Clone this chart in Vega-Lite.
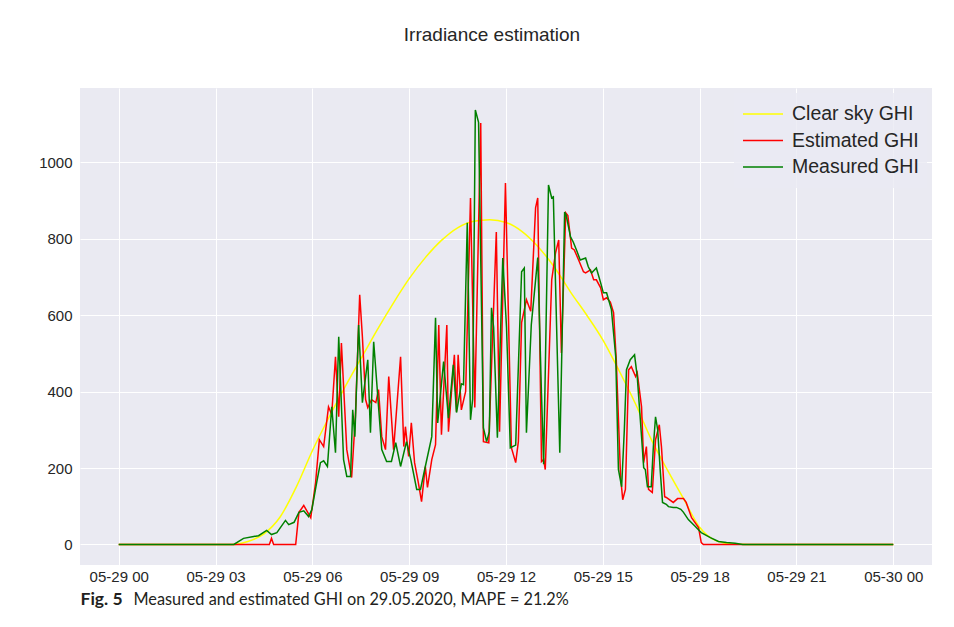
{
  "$schema": "https://vega.github.io/schema/vega-lite/v6.json",
  "width": 852,
  "height": 477,
  "autosize": {"type": "none"},
  "padding": {"left": 80, "top": 88, "right": 22, "bottom": 62},
  "background": "white",
  "title": {"text": "Irradiance estimation", "font": "Liberation Sans", "fontSize": 19, "fontWeight": "normal", "color": "#262626", "anchor": "middle", "baseline": "alphabetic", "offset": 28, "dx": -14},
  "config": {
    "view": {"fill": "#EAEAF2", "stroke": null},
    "axis": {"labelFont": "Liberation Sans", "labelColor": "#262626", "labelFontSize": 15, "ticks": false, "domain": false, "gridColor": "#FFFFFF", "gridWidth": 1, "gridOpacity": 1}
  },
  "data": {"values": [
    {"series": "Clear sky GHI", "time": "2020-05-29T00:00", "ghi": 0},
    {"series": "Clear sky GHI", "time": "2020-05-29T03:30", "ghi": 0},
    {"series": "Clear sky GHI", "time": "2020-05-29T04:00", "ghi": 8},
    {"series": "Clear sky GHI", "time": "2020-05-29T04:30", "ghi": 28},
    {"series": "Clear sky GHI", "time": "2020-05-29T05:00", "ghi": 72},
    {"series": "Clear sky GHI", "time": "2020-05-29T05:30", "ghi": 150},
    {"series": "Clear sky GHI", "time": "2020-05-29T06:00", "ghi": 245},
    {"series": "Clear sky GHI", "time": "2020-05-29T06:30", "ghi": 330},
    {"series": "Clear sky GHI", "time": "2020-05-29T07:00", "ghi": 410},
    {"series": "Clear sky GHI", "time": "2020-05-29T07:30", "ghi": 485},
    {"series": "Clear sky GHI", "time": "2020-05-29T08:00", "ghi": 560},
    {"series": "Clear sky GHI", "time": "2020-05-29T08:30", "ghi": 630},
    {"series": "Clear sky GHI", "time": "2020-05-29T09:00", "ghi": 695},
    {"series": "Clear sky GHI", "time": "2020-05-29T09:30", "ghi": 750},
    {"series": "Clear sky GHI", "time": "2020-05-29T10:00", "ghi": 795},
    {"series": "Clear sky GHI", "time": "2020-05-29T10:30", "ghi": 828},
    {"series": "Clear sky GHI", "time": "2020-05-29T11:00", "ghi": 845},
    {"series": "Clear sky GHI", "time": "2020-05-29T11:30", "ghi": 849},
    {"series": "Clear sky GHI", "time": "2020-05-29T12:00", "ghi": 842},
    {"series": "Clear sky GHI", "time": "2020-05-29T12:30", "ghi": 818},
    {"series": "Clear sky GHI", "time": "2020-05-29T13:00", "ghi": 778},
    {"series": "Clear sky GHI", "time": "2020-05-29T13:30", "ghi": 725},
    {"series": "Clear sky GHI", "time": "2020-05-29T14:00", "ghi": 660},
    {"series": "Clear sky GHI", "time": "2020-05-29T14:30", "ghi": 600},
    {"series": "Clear sky GHI", "time": "2020-05-29T15:00", "ghi": 535},
    {"series": "Clear sky GHI", "time": "2020-05-29T15:30", "ghi": 455},
    {"series": "Clear sky GHI", "time": "2020-05-29T16:00", "ghi": 370},
    {"series": "Clear sky GHI", "time": "2020-05-29T16:30", "ghi": 275},
    {"series": "Clear sky GHI", "time": "2020-05-29T17:00", "ghi": 195},
    {"series": "Clear sky GHI", "time": "2020-05-29T17:30", "ghi": 120},
    {"series": "Clear sky GHI", "time": "2020-05-29T18:00", "ghi": 45},
    {"series": "Clear sky GHI", "time": "2020-05-29T18:30", "ghi": 10},
    {"series": "Clear sky GHI", "time": "2020-05-29T19:00", "ghi": 1},
    {"series": "Clear sky GHI", "time": "2020-05-29T19:30", "ghi": 0},
    {"series": "Clear sky GHI", "time": "2020-05-30T00:00", "ghi": 0},

    {"series": "Estimated GHI", "time": "2020-05-29T00:00", "ghi": 0},
    {"series": "Estimated GHI", "time": "2020-05-29T04:40", "ghi": 0},
    {"series": "Estimated GHI", "time": "2020-05-29T04:44", "ghi": 16},
    {"series": "Estimated GHI", "time": "2020-05-29T04:48", "ghi": 0},
    {"series": "Estimated GHI", "time": "2020-05-29T05:29", "ghi": 0},
    {"series": "Estimated GHI", "time": "2020-05-29T05:35", "ghi": 84},
    {"series": "Estimated GHI", "time": "2020-05-29T05:44", "ghi": 102},
    {"series": "Estimated GHI", "time": "2020-05-29T05:57", "ghi": 70},
    {"series": "Estimated GHI", "time": "2020-05-29T06:06", "ghi": 162},
    {"series": "Estimated GHI", "time": "2020-05-29T06:13", "ghi": 274},
    {"series": "Estimated GHI", "time": "2020-05-29T06:21", "ghi": 256},
    {"series": "Estimated GHI", "time": "2020-05-29T06:30", "ghi": 360},
    {"series": "Estimated GHI", "time": "2020-05-29T06:36", "ghi": 340},
    {"series": "Estimated GHI", "time": "2020-05-29T06:43", "ghi": 491},
    {"series": "Estimated GHI", "time": "2020-05-29T06:49", "ghi": 334},
    {"series": "Estimated GHI", "time": "2020-05-29T06:54", "ghi": 527},
    {"series": "Estimated GHI", "time": "2020-05-29T07:04", "ghi": 248},
    {"series": "Estimated GHI", "time": "2020-05-29T07:13", "ghi": 175},
    {"series": "Estimated GHI", "time": "2020-05-29T07:20", "ghi": 334},
    {"series": "Estimated GHI", "time": "2020-05-29T07:28", "ghi": 653},
    {"series": "Estimated GHI", "time": "2020-05-29T07:33", "ghi": 543},
    {"series": "Estimated GHI", "time": "2020-05-29T07:39", "ghi": 379},
    {"series": "Estimated GHI", "time": "2020-05-29T07:43", "ghi": 358},
    {"series": "Estimated GHI", "time": "2020-05-29T07:50", "ghi": 379},
    {"series": "Estimated GHI", "time": "2020-05-29T07:58", "ghi": 371},
    {"series": "Estimated GHI", "time": "2020-05-29T08:03", "ghi": 405},
    {"series": "Estimated GHI", "time": "2020-05-29T08:09", "ghi": 282},
    {"series": "Estimated GHI", "time": "2020-05-29T08:16", "ghi": 248},
    {"series": "Estimated GHI", "time": "2020-05-29T08:22", "ghi": 439},
    {"series": "Estimated GHI", "time": "2020-05-29T08:31", "ghi": 248},
    {"series": "Estimated GHI", "time": "2020-05-29T08:44", "ghi": 491},
    {"series": "Estimated GHI", "time": "2020-05-29T08:50", "ghi": 256},
    {"series": "Estimated GHI", "time": "2020-05-29T08:53", "ghi": 308},
    {"series": "Estimated GHI", "time": "2020-05-29T08:59", "ghi": 230},
    {"series": "Estimated GHI", "time": "2020-05-29T09:04", "ghi": 318},
    {"series": "Estimated GHI", "time": "2020-05-29T09:10", "ghi": 214},
    {"series": "Estimated GHI", "time": "2020-05-29T09:17", "ghi": 162},
    {"series": "Estimated GHI", "time": "2020-05-29T09:23", "ghi": 112},
    {"series": "Estimated GHI", "time": "2020-05-29T09:30", "ghi": 204},
    {"series": "Estimated GHI", "time": "2020-05-29T09:34", "ghi": 149},
    {"series": "Estimated GHI", "time": "2020-05-29T09:42", "ghi": 222},
    {"series": "Estimated GHI", "time": "2020-05-29T09:49", "ghi": 261},
    {"series": "Estimated GHI", "time": "2020-05-29T09:55", "ghi": 574},
    {"series": "Estimated GHI", "time": "2020-05-29T10:00", "ghi": 287},
    {"series": "Estimated GHI", "time": "2020-05-29T10:10", "ghi": 574},
    {"series": "Estimated GHI", "time": "2020-05-29T10:13", "ghi": 295},
    {"series": "Estimated GHI", "time": "2020-05-29T10:24", "ghi": 496},
    {"series": "Estimated GHI", "time": "2020-05-29T10:28", "ghi": 347},
    {"series": "Estimated GHI", "time": "2020-05-29T10:31", "ghi": 496},
    {"series": "Estimated GHI", "time": "2020-05-29T10:37", "ghi": 352},
    {"series": "Estimated GHI", "time": "2020-05-29T10:45", "ghi": 400},
    {"series": "Estimated GHI", "time": "2020-05-29T10:54", "ghi": 906},
    {"series": "Estimated GHI", "time": "2020-05-29T11:02", "ghi": 358},
    {"series": "Estimated GHI", "time": "2020-05-29T11:13", "ghi": 1102},
    {"series": "Estimated GHI", "time": "2020-05-29T11:18", "ghi": 269},
    {"series": "Estimated GHI", "time": "2020-05-29T11:28", "ghi": 266},
    {"series": "Estimated GHI", "time": "2020-05-29T11:42", "ghi": 817},
    {"series": "Estimated GHI", "time": "2020-05-29T11:48", "ghi": 295},
    {"series": "Estimated GHI", "time": "2020-05-29T11:59", "ghi": 945},
    {"series": "Estimated GHI", "time": "2020-05-29T12:10", "ghi": 253},
    {"series": "Estimated GHI", "time": "2020-05-29T12:18", "ghi": 214},
    {"series": "Estimated GHI", "time": "2020-05-29T12:23", "ghi": 269},
    {"series": "Estimated GHI", "time": "2020-05-29T12:29", "ghi": 580},
    {"series": "Estimated GHI", "time": "2020-05-29T12:38", "ghi": 640},
    {"series": "Estimated GHI", "time": "2020-05-29T12:46", "ghi": 610},
    {"series": "Estimated GHI", "time": "2020-05-29T12:55", "ghi": 880},
    {"series": "Estimated GHI", "time": "2020-05-29T12:59", "ghi": 906},
    {"series": "Estimated GHI", "time": "2020-05-29T13:06", "ghi": 217},
    {"series": "Estimated GHI", "time": "2020-05-29T13:10", "ghi": 222},
    {"series": "Estimated GHI", "time": "2020-05-29T13:13", "ghi": 196},
    {"series": "Estimated GHI", "time": "2020-05-29T13:25", "ghi": 692},
    {"series": "Estimated GHI", "time": "2020-05-29T13:32", "ghi": 762},
    {"series": "Estimated GHI", "time": "2020-05-29T13:38", "ghi": 796},
    {"series": "Estimated GHI", "time": "2020-05-29T13:43", "ghi": 501},
    {"series": "Estimated GHI", "time": "2020-05-29T13:51", "ghi": 867},
    {"series": "Estimated GHI", "time": "2020-05-29T13:55", "ghi": 860},
    {"series": "Estimated GHI", "time": "2020-05-29T14:02", "ghi": 775},
    {"series": "Estimated GHI", "time": "2020-05-29T14:07", "ghi": 770},
    {"series": "Estimated GHI", "time": "2020-05-29T14:15", "ghi": 744},
    {"series": "Estimated GHI", "time": "2020-05-29T14:24", "ghi": 713},
    {"series": "Estimated GHI", "time": "2020-05-29T14:28", "ghi": 710},
    {"series": "Estimated GHI", "time": "2020-05-29T14:37", "ghi": 718},
    {"series": "Estimated GHI", "time": "2020-05-29T14:43", "ghi": 692},
    {"series": "Estimated GHI", "time": "2020-05-29T14:48", "ghi": 692},
    {"series": "Estimated GHI", "time": "2020-05-29T14:56", "ghi": 671},
    {"series": "Estimated GHI", "time": "2020-05-29T15:01", "ghi": 640},
    {"series": "Estimated GHI", "time": "2020-05-29T15:07", "ghi": 645},
    {"series": "Estimated GHI", "time": "2020-05-29T15:14", "ghi": 634},
    {"series": "Estimated GHI", "time": "2020-05-29T15:20", "ghi": 606},
    {"series": "Estimated GHI", "time": "2020-05-29T15:25", "ghi": 483},
    {"series": "Estimated GHI", "time": "2020-05-29T15:33", "ghi": 178},
    {"series": "Estimated GHI", "time": "2020-05-29T15:37", "ghi": 117},
    {"series": "Estimated GHI", "time": "2020-05-29T15:42", "ghi": 144},
    {"series": "Estimated GHI", "time": "2020-05-29T15:48", "ghi": 457},
    {"series": "Estimated GHI", "time": "2020-05-29T15:53", "ghi": 465},
    {"series": "Estimated GHI", "time": "2020-05-29T16:01", "ghi": 439},
    {"series": "Estimated GHI", "time": "2020-05-29T16:04", "ghi": 449},
    {"series": "Estimated GHI", "time": "2020-05-29T16:12", "ghi": 360},
    {"series": "Estimated GHI", "time": "2020-05-29T16:16", "ghi": 214},
    {"series": "Estimated GHI", "time": "2020-05-29T16:21", "ghi": 256},
    {"series": "Estimated GHI", "time": "2020-05-29T16:25", "ghi": 144},
    {"series": "Estimated GHI", "time": "2020-05-29T16:32", "ghi": 136},
    {"series": "Estimated GHI", "time": "2020-05-29T16:38", "ghi": 274},
    {"series": "Estimated GHI", "time": "2020-05-29T16:45", "ghi": 313},
    {"series": "Estimated GHI", "time": "2020-05-29T16:49", "ghi": 256},
    {"series": "Estimated GHI", "time": "2020-05-29T16:55", "ghi": 125},
    {"series": "Estimated GHI", "time": "2020-05-29T16:58", "ghi": 123},
    {"series": "Estimated GHI", "time": "2020-05-29T17:11", "ghi": 110},
    {"series": "Estimated GHI", "time": "2020-05-29T17:19", "ghi": 120},
    {"series": "Estimated GHI", "time": "2020-05-29T17:30", "ghi": 120},
    {"series": "Estimated GHI", "time": "2020-05-29T17:35", "ghi": 110},
    {"series": "Estimated GHI", "time": "2020-05-29T17:45", "ghi": 70},
    {"series": "Estimated GHI", "time": "2020-05-29T17:58", "ghi": 44},
    {"series": "Estimated GHI", "time": "2020-05-29T18:03", "ghi": 5},
    {"series": "Estimated GHI", "time": "2020-05-29T18:07", "ghi": 0},
    {"series": "Estimated GHI", "time": "2020-05-30T00:00", "ghi": 0},

    {"series": "Measured GHI", "time": "2020-05-29T00:00", "ghi": 0},
    {"series": "Measured GHI", "time": "2020-05-29T03:34", "ghi": 0},
    {"series": "Measured GHI", "time": "2020-05-29T03:52", "ghi": 16},
    {"series": "Measured GHI", "time": "2020-05-29T04:11", "ghi": 21},
    {"series": "Measured GHI", "time": "2020-05-29T04:20", "ghi": 23},
    {"series": "Measured GHI", "time": "2020-05-29T04:35", "ghi": 37},
    {"series": "Measured GHI", "time": "2020-05-29T04:44", "ghi": 26},
    {"series": "Measured GHI", "time": "2020-05-29T04:54", "ghi": 31},
    {"series": "Measured GHI", "time": "2020-05-29T05:10", "ghi": 63},
    {"series": "Measured GHI", "time": "2020-05-29T05:16", "ghi": 52},
    {"series": "Measured GHI", "time": "2020-05-29T05:26", "ghi": 58},
    {"series": "Measured GHI", "time": "2020-05-29T05:35", "ghi": 84},
    {"series": "Measured GHI", "time": "2020-05-29T05:44", "ghi": 88},
    {"series": "Measured GHI", "time": "2020-05-29T05:53", "ghi": 73},
    {"series": "Measured GHI", "time": "2020-05-29T05:59", "ghi": 91},
    {"series": "Measured GHI", "time": "2020-05-29T06:08", "ghi": 162},
    {"series": "Measured GHI", "time": "2020-05-29T06:15", "ghi": 214},
    {"series": "Measured GHI", "time": "2020-05-29T06:21", "ghi": 219},
    {"series": "Measured GHI", "time": "2020-05-29T06:28", "ghi": 204},
    {"series": "Measured GHI", "time": "2020-05-29T06:36", "ghi": 360},
    {"series": "Measured GHI", "time": "2020-05-29T06:43", "ghi": 240},
    {"series": "Measured GHI", "time": "2020-05-29T06:49", "ghi": 543},
    {"series": "Measured GHI", "time": "2020-05-29T06:58", "ghi": 222},
    {"series": "Measured GHI", "time": "2020-05-29T07:04", "ghi": 178},
    {"series": "Measured GHI", "time": "2020-05-29T07:11", "ghi": 178},
    {"series": "Measured GHI", "time": "2020-05-29T07:15", "ghi": 352},
    {"series": "Measured GHI", "time": "2020-05-29T07:19", "ghi": 282},
    {"series": "Measured GHI", "time": "2020-05-29T07:26", "ghi": 574},
    {"series": "Measured GHI", "time": "2020-05-29T07:33", "ghi": 371},
    {"series": "Measured GHI", "time": "2020-05-29T07:43", "ghi": 483},
    {"series": "Measured GHI", "time": "2020-05-29T07:48", "ghi": 292},
    {"series": "Measured GHI", "time": "2020-05-29T07:54", "ghi": 530},
    {"series": "Measured GHI", "time": "2020-05-29T08:09", "ghi": 248},
    {"series": "Measured GHI", "time": "2020-05-29T08:18", "ghi": 217},
    {"series": "Measured GHI", "time": "2020-05-29T08:27", "ghi": 217},
    {"series": "Measured GHI", "time": "2020-05-29T08:35", "ghi": 266},
    {"series": "Measured GHI", "time": "2020-05-29T08:44", "ghi": 204},
    {"series": "Measured GHI", "time": "2020-05-29T08:55", "ghi": 269},
    {"series": "Measured GHI", "time": "2020-05-29T09:03", "ghi": 222},
    {"series": "Measured GHI", "time": "2020-05-29T09:14", "ghi": 144},
    {"series": "Measured GHI", "time": "2020-05-29T09:21", "ghi": 144},
    {"series": "Measured GHI", "time": "2020-05-29T09:30", "ghi": 204},
    {"series": "Measured GHI", "time": "2020-05-29T09:42", "ghi": 282},
    {"series": "Measured GHI", "time": "2020-05-29T09:49", "ghi": 593},
    {"series": "Measured GHI", "time": "2020-05-29T09:53", "ghi": 318},
    {"series": "Measured GHI", "time": "2020-05-29T10:04", "ghi": 478},
    {"series": "Measured GHI", "time": "2020-05-29T10:13", "ghi": 330},
    {"series": "Measured GHI", "time": "2020-05-29T10:22", "ghi": 470},
    {"series": "Measured GHI", "time": "2020-05-29T10:28", "ghi": 345},
    {"series": "Measured GHI", "time": "2020-05-29T10:37", "ghi": 420},
    {"series": "Measured GHI", "time": "2020-05-29T10:41", "ghi": 418},
    {"series": "Measured GHI", "time": "2020-05-29T10:48", "ghi": 841},
    {"series": "Measured GHI", "time": "2020-05-29T10:54", "ghi": 326},
    {"series": "Measured GHI", "time": "2020-05-29T10:58", "ghi": 380},
    {"series": "Measured GHI", "time": "2020-05-29T11:03", "ghi": 1136},
    {"series": "Measured GHI", "time": "2020-05-29T11:09", "ghi": 1104},
    {"series": "Measured GHI", "time": "2020-05-29T11:18", "ghi": 305},
    {"series": "Measured GHI", "time": "2020-05-29T11:24", "ghi": 269},
    {"series": "Measured GHI", "time": "2020-05-29T11:29", "ghi": 295},
    {"series": "Measured GHI", "time": "2020-05-29T11:33", "ghi": 619},
    {"series": "Measured GHI", "time": "2020-05-29T11:37", "ghi": 567},
    {"series": "Measured GHI", "time": "2020-05-29T11:44", "ghi": 279},
    {"series": "Measured GHI", "time": "2020-05-29T11:54", "ghi": 749},
    {"series": "Measured GHI", "time": "2020-05-29T12:01", "ghi": 567},
    {"series": "Measured GHI", "time": "2020-05-29T12:08", "ghi": 253},
    {"series": "Measured GHI", "time": "2020-05-29T12:18", "ghi": 260},
    {"series": "Measured GHI", "time": "2020-05-29T12:29", "ghi": 713},
    {"series": "Measured GHI", "time": "2020-05-29T12:34", "ghi": 723},
    {"series": "Measured GHI", "time": "2020-05-29T12:38", "ghi": 292},
    {"series": "Measured GHI", "time": "2020-05-29T12:47", "ghi": 574},
    {"series": "Measured GHI", "time": "2020-05-29T12:59", "ghi": 750},
    {"series": "Measured GHI", "time": "2020-05-29T13:06", "ghi": 392},
    {"series": "Measured GHI", "time": "2020-05-29T13:10", "ghi": 210},
    {"series": "Measured GHI", "time": "2020-05-29T13:19", "ghi": 940},
    {"series": "Measured GHI", "time": "2020-05-29T13:25", "ghi": 906},
    {"series": "Measured GHI", "time": "2020-05-29T13:28", "ghi": 909},
    {"series": "Measured GHI", "time": "2020-05-29T13:40", "ghi": 240},
    {"series": "Measured GHI", "time": "2020-05-29T13:49", "ghi": 869},
    {"series": "Measured GHI", "time": "2020-05-29T13:52", "ghi": 860},
    {"series": "Measured GHI", "time": "2020-05-29T14:00", "ghi": 804},
    {"series": "Measured GHI", "time": "2020-05-29T14:05", "ghi": 791},
    {"series": "Measured GHI", "time": "2020-05-29T14:11", "ghi": 770},
    {"series": "Measured GHI", "time": "2020-05-29T14:18", "ghi": 744},
    {"series": "Measured GHI", "time": "2020-05-29T14:28", "ghi": 749},
    {"series": "Measured GHI", "time": "2020-05-29T14:33", "ghi": 726},
    {"series": "Measured GHI", "time": "2020-05-29T14:39", "ghi": 710},
    {"series": "Measured GHI", "time": "2020-05-29T14:48", "ghi": 723},
    {"series": "Measured GHI", "time": "2020-05-29T14:56", "ghi": 684},
    {"series": "Measured GHI", "time": "2020-05-29T15:01", "ghi": 658},
    {"series": "Measured GHI", "time": "2020-05-29T15:07", "ghi": 658},
    {"series": "Measured GHI", "time": "2020-05-29T15:16", "ghi": 614},
    {"series": "Measured GHI", "time": "2020-05-29T15:24", "ghi": 491},
    {"series": "Measured GHI", "time": "2020-05-29T15:29", "ghi": 196},
    {"series": "Measured GHI", "time": "2020-05-29T15:35", "ghi": 151},
    {"series": "Measured GHI", "time": "2020-05-29T15:40", "ghi": 300},
    {"series": "Measured GHI", "time": "2020-05-29T15:44", "ghi": 457},
    {"series": "Measured GHI", "time": "2020-05-29T15:51", "ghi": 483},
    {"series": "Measured GHI", "time": "2020-05-29T15:59", "ghi": 496},
    {"series": "Measured GHI", "time": "2020-05-29T16:04", "ghi": 439},
    {"series": "Measured GHI", "time": "2020-05-29T16:12", "ghi": 282},
    {"series": "Measured GHI", "time": "2020-05-29T16:16", "ghi": 201},
    {"series": "Measured GHI", "time": "2020-05-29T16:19", "ghi": 196},
    {"series": "Measured GHI", "time": "2020-05-29T16:23", "ghi": 151},
    {"series": "Measured GHI", "time": "2020-05-29T16:30", "ghi": 151},
    {"series": "Measured GHI", "time": "2020-05-29T16:34", "ghi": 256},
    {"series": "Measured GHI", "time": "2020-05-29T16:38", "ghi": 334},
    {"series": "Measured GHI", "time": "2020-05-29T16:42", "ghi": 300},
    {"series": "Measured GHI", "time": "2020-05-29T16:47", "ghi": 188},
    {"series": "Measured GHI", "time": "2020-05-29T16:51", "ghi": 110},
    {"series": "Measured GHI", "time": "2020-05-29T16:58", "ghi": 105},
    {"series": "Measured GHI", "time": "2020-05-29T17:02", "ghi": 99},
    {"series": "Measured GHI", "time": "2020-05-29T17:11", "ghi": 97},
    {"series": "Measured GHI", "time": "2020-05-29T17:17", "ghi": 97},
    {"series": "Measured GHI", "time": "2020-05-29T17:25", "ghi": 92},
    {"series": "Measured GHI", "time": "2020-05-29T17:30", "ghi": 84},
    {"series": "Measured GHI", "time": "2020-05-29T17:39", "ghi": 65},
    {"series": "Measured GHI", "time": "2020-05-29T17:52", "ghi": 47},
    {"series": "Measured GHI", "time": "2020-05-29T18:03", "ghi": 31},
    {"series": "Measured GHI", "time": "2020-05-29T18:20", "ghi": 18},
    {"series": "Measured GHI", "time": "2020-05-29T18:35", "ghi": 8},
    {"series": "Measured GHI", "time": "2020-05-29T18:50", "ghi": 5},
    {"series": "Measured GHI", "time": "2020-05-29T19:06", "ghi": 3},
    {"series": "Measured GHI", "time": "2020-05-29T19:20", "ghi": 0},
    {"series": "Measured GHI", "time": "2020-05-30T00:00", "ghi": 0}
  ]},
  "encoding": {
    "x": {
      "field": "time", "type": "temporal",
      "scale": {"domain": [{"year": 2020, "month": 5, "date": 28, "hours": 22, "minutes": 48}, {"year": 2020, "month": 5, "date": 30, "hours": 1, "minutes": 12}]},
      "axis": {
        "values": [
          {"year": 2020, "month": 5, "date": 29, "hours": 0},
          {"year": 2020, "month": 5, "date": 29, "hours": 3},
          {"year": 2020, "month": 5, "date": 29, "hours": 6},
          {"year": 2020, "month": 5, "date": 29, "hours": 9},
          {"year": 2020, "month": 5, "date": 29, "hours": 12},
          {"year": 2020, "month": 5, "date": 29, "hours": 15},
          {"year": 2020, "month": 5, "date": 29, "hours": 18},
          {"year": 2020, "month": 5, "date": 29, "hours": 21},
          {"year": 2020, "month": 5, "date": 30, "hours": 0}
        ],
        "format": "%m-%d %H",
        "labelPadding": 4,
        "labelOverlap": false,
        "labelFlush": false,
        "title": "Measured and estimated GHI on 29.05.2020, MAPE = 21.2%",
        "titleFont": "Lato",
        "titleFontSize": 16.3,
        "titleFontWeight": "normal",
        "titleColor": "#231F20",
        "titleAlign": "left",
        "titleAnchor": "start",
        "titleBaseline": "middle",
        "titleX": 53,
        "titleY": 34
      }
    },
    "y": {
      "field": "ghi", "type": "quantitative",
      "scale": {"domain": [-53.6, 1193.5], "nice": false, "zero": false},
      "axis": {
        "values": [0, 200, 400, 600, 800, 1000],
        "format": "d",
        "labelPadding": 8,
        "title": "Fig. 5",
        "titleFont": "Lato",
        "titleFontSize": 17.5,
        "titleFontWeight": "bold",
        "titleColor": "#231F20",
        "titleAngle": 0,
        "titleAlign": "left",
        "titleBaseline": "middle",
        "titleX": 0,
        "titleY": 511
      }
    },
    "color": {
      "field": "series", "type": "nominal",
      "scale": {"domain": ["Clear sky GHI", "Estimated GHI", "Measured GHI"], "range": ["#FFFF00", "#FF0000", "#008000"]},
      "legend": {
        "title": null,
        "orient": "top-right",
        "offset": 5,
        "padding": 8,
        "fillColor": "rgba(234,234,242,0.8)",
        "strokeColor": null,
        "symbolType": "stroke",
        "symbolSize": 1600,
        "symbolStrokeWidth": 1.5,
        "clipHeight": 26,
        "rowPadding": 0.5,
        "labelFont": "Liberation Sans",
        "labelFontSize": 19.5,
        "labelColor": "#262626",
        "labelOffset": 8,
        "labelLimit": 300
      }
    }
  },
  "layer": [
    {"transform": [{"filter": "datum.series === 'Clear sky GHI'"}], "mark": {"type": "line", "strokeWidth": 1.5, "interpolate": "monotone"}},
    {"transform": [{"filter": "datum.series === 'Estimated GHI'"}], "mark": {"type": "line", "strokeWidth": 1.5}},
    {"transform": [{"filter": "datum.series === 'Measured GHI'"}], "mark": {"type": "line", "strokeWidth": 1.5}}
  ]
}
